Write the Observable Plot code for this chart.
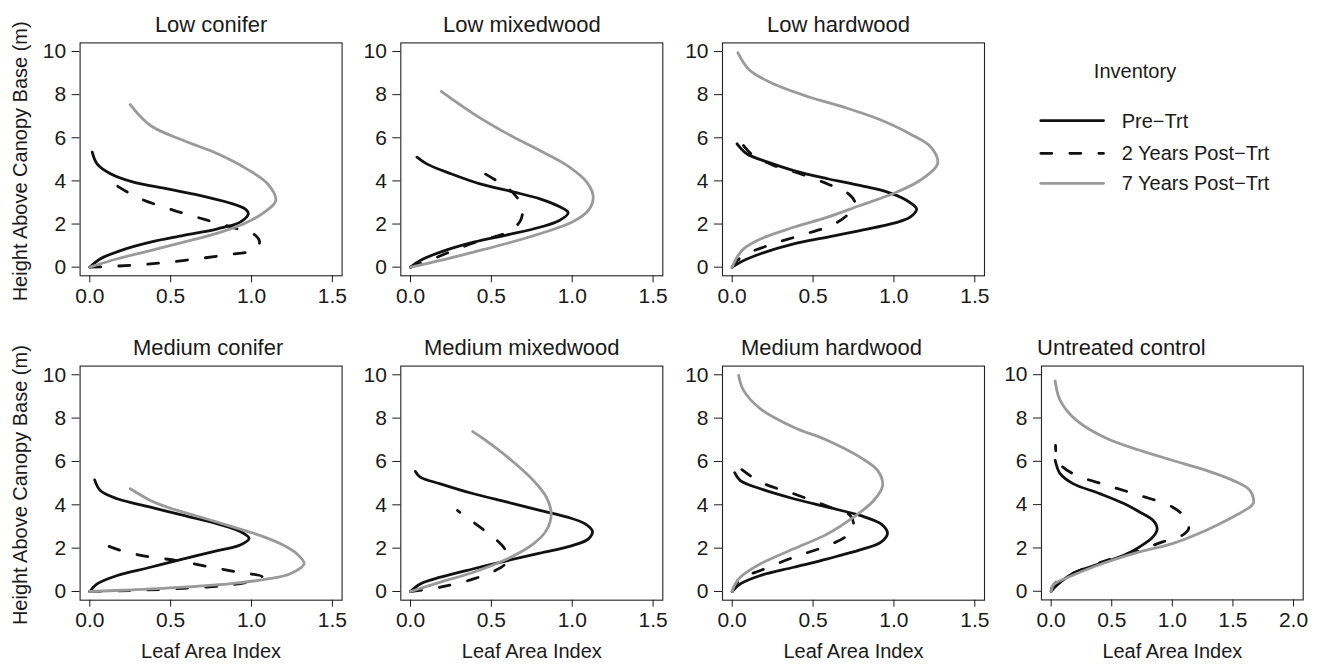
<!DOCTYPE html>
<html><head><meta charset="utf-8">
<script src="https://cdn.jsdelivr.net/npm/d3@7"></script>
<script src="https://cdn.jsdelivr.net/npm/@observablehq/plot@0.6"></script>
<style>
body{margin:0;background:#fff;}
#chart{position:relative;width:1318px;height:664px;overflow:hidden;font-family:"Liberation Sans",Arial,Helvetica,sans-serif;color:#1a1a1a;background:#fff;}
.panel{position:absolute;}
.panel svg{overflow:visible;background:transparent;}
</style></head><body><div id="chart"></div>
<script>
// ---- data: [Leaf Area Index, Height above canopy base (m)] ----
const lowConiferPre = [[0,0],[0.066,0.39],[0.19,0.77],[0.375,1.16],[0.58,1.47],[0.79,1.78],[0.93,2.09],[0.98,2.47],[0.96,2.70],[0.85,3.01],[0.685,3.32],[0.48,3.63],[0.27,3.94],[0.128,4.33],[0.045,4.79],[0.015,5.33]];
const lowConifer2y = [[0,0],[0.17,0.05],[0.375,0.15],[0.6,0.33],[0.85,0.58],[1.015,0.8],[1.05,1.15],[1.025,1.47],[0.91,1.78],[0.72,2.19],[0.51,2.66],[0.29,3.25],[0.1,4.1]];
const lowConifer7y = [[0,0],[0.17,0.39],[0.375,0.77],[0.58,1.16],[0.79,1.58],[0.95,2.0],[1.08,2.55],[1.15,3.09],[1.1,3.86],[0.97,4.56],[0.79,5.26],[0.58,5.87],[0.375,6.57],[0.25,7.54]];

const lowMixedPre = [[0,0],[0.06,0.31],[0.185,0.7],[0.39,1.16],[0.6,1.5],[0.8,1.85],[0.92,2.16],[0.975,2.52],[0.92,2.81],[0.8,3.17],[0.64,3.48],[0.43,3.86],[0.25,4.33],[0.1,4.79],[0.04,5.1]];
const lowMixed2y = [[0,0],[0.14,0.39],[0.29,0.85],[0.45,1.27],[0.6,1.62],[0.68,2.16],[0.69,2.78],[0.64,3.4],[0.53,4.02],[0.37,4.7]];
const lowMixed7y = [[0,0],[0.185,0.31],[0.39,0.7],[0.6,1.11],[0.8,1.55],[1.0,2.09],[1.1,2.63],[1.13,3.25],[1.09,3.94],[0.97,4.71],[0.8,5.41],[0.6,6.18],[0.39,7.11],[0.19,8.15]];

const lowHardPre = [[0,0],[0.05,0.23],[0.175,0.62],[0.38,1.08],[0.59,1.39],[0.79,1.7],[1.0,2.04],[1.1,2.32],[1.14,2.7],[1.08,3.09],[0.96,3.48],[0.79,3.79],[0.59,4.1],[0.38,4.48],[0.22,4.87],[0.09,5.26],[0.03,5.72]];
const lowHard2y = [[0,0],[0.03,0.3],[0.09,0.62],[0.24,1.05],[0.42,1.47],[0.61,1.93],[0.71,2.4],[0.76,2.94],[0.72,3.4],[0.59,3.86],[0.42,4.33],[0.26,4.71],[0.13,5.18],[0.07,5.64]];
const lowHard7y = [[0,0],[0.025,0.4],[0.07,0.85],[0.175,1.31],[0.38,1.85],[0.59,2.32],[0.79,2.86],[1.0,3.43],[1.16,4.02],[1.27,4.79],[1.23,5.56],[1.1,6.18],[0.9,6.88],[0.69,7.42],[0.48,7.88],[0.28,8.42],[0.11,9.12],[0.035,9.94]];

const medConiferPre = [[0,0],[0.045,0.35],[0.17,0.74],[0.375,1.12],[0.58,1.51],[0.79,1.89],[0.93,2.15],[0.985,2.46],[0.93,2.77],[0.79,3.12],[0.58,3.51],[0.375,3.89],[0.17,4.28],[0.065,4.66],[0.03,5.15]];
const medConifer2y = [[0,0],[0.27,0.05],[0.58,0.15],[0.89,0.32],[1.015,0.52],[1.065,0.69],[0.93,0.88],[0.77,1.09],[0.56,1.4],[0.29,1.71],[0.107,2.12],[0.045,2.42]];
const medConifer7y = [[0,0],[0.27,0.08],[0.58,0.2],[0.89,0.38],[1.1,0.58],[1.24,0.82],[1.325,1.28],[1.28,1.74],[1.18,2.2],[1.055,2.58],[0.89,2.97],[0.685,3.43],[0.48,3.89],[0.375,4.2],[0.25,4.74]];

const medMixedPre = [[0,0],[0.06,0.35],[0.185,0.66],[0.39,1.05],[0.6,1.43],[0.8,1.77],[1.0,2.12],[1.1,2.43],[1.125,2.78],[1.08,3.12],[0.97,3.43],[0.8,3.74],[0.6,4.12],[0.39,4.51],[0.185,4.97],[0.06,5.28],[0.03,5.54]];
const medMixed2y = [[0,0],[0.185,0.2],[0.39,0.58],[0.52,0.95],[0.59,1.3],[0.6,1.6],[0.58,2.0],[0.52,2.45],[0.43,2.97],[0.29,3.74]];
const medMixed7y = [[0,0],[0.185,0.43],[0.39,0.89],[0.6,1.51],[0.76,2.2],[0.84,2.82],[0.87,3.58],[0.84,4.35],[0.76,5.12],[0.6,6.2],[0.45,7.05],[0.385,7.38]];

const medHardPre = [[0,0],[0.05,0.35],[0.175,0.74],[0.38,1.12],[0.59,1.51],[0.79,1.92],[0.92,2.28],[0.96,2.69],[0.92,3.12],[0.79,3.51],[0.59,3.89],[0.38,4.28],[0.175,4.74],[0.05,5.12],[0.015,5.48]];
const medHard2y = [[0,0],[0.02,0.3],[0.07,0.66],[0.175,0.97],[0.38,1.58],[0.59,2.12],[0.71,2.58],[0.75,3.05],[0.73,3.51],[0.63,3.82],[0.38,4.51],[0.175,5.05],[0.06,5.62]];
const medHard7y = [[0,0],[0.015,0.3],[0.05,0.66],[0.175,1.28],[0.38,1.97],[0.59,2.66],[0.75,3.43],[0.875,4.2],[0.93,4.89],[0.9,5.58],[0.79,6.2],[0.59,6.97],[0.38,7.58],[0.175,8.43],[0.07,9.28],[0.04,9.97]];

const controlPre = [[0,0],[0.047,0.28],[0.18,0.82],[0.32,1.12],[0.6,1.66],[0.73,2.05],[0.84,2.51],[0.875,2.89],[0.84,3.28],[0.73,3.66],[0.6,4.05],[0.4,4.51],[0.18,4.97],[0.074,5.43],[0.033,6.05]];
const control2y = [[0,0],[0.02,0.3],[0.18,0.82],[0.46,1.43],[0.73,1.89],[0.92,2.28],[1.06,2.51],[1.135,2.89],[1.1,3.43],[1.0,3.89],[0.73,4.43],[0.46,4.89],[0.18,5.43],[0.06,5.97],[0.036,6.74]];
const control7y = [[0,0],[0.02,0.3],[0.18,0.74],[0.46,1.35],[0.73,1.82],[1.0,2.2],[1.28,2.82],[1.5,3.43],[1.64,3.89],[1.67,4.09],[1.64,4.66],[1.5,5.12],[1.28,5.58],[1.0,6.05],[0.73,6.51],[0.46,7.05],[0.21,7.89],[0.074,8.82],[0.033,9.71]];

const inventories = ["Pre\u2212Trt", "2 Years Post\u2212Trt", "7 Years Post\u2212Trt"];
const panelTitles = ["Low conifer","Low mixedwood","Low hardwood","Medium conifer","Medium mixedwood","Medium hardwood","Untreated control"];
const xTicks = [0, 0.5, 1.0, 1.5];
const xTicksControl = [0, 0.5, 1.0, 1.5, 2.0];
const yTicks = [0, 2, 4, 6, 8, 10];
const xLabel = "Leaf Area Index";
const yLabel = "Height Above Canopy Base (m)";
const legendTitle = "Inventory";

// ---- layout / style ----
const FONT = '"Liberation Sans", Arial, Helvetica, sans-serif';
const lineStyles = [
  {stroke: "#111", dash: null},
  {stroke: "#111", dash: "11,18"},
  {stroke: "#9a9a9a", dash: null}
];
const rows = [
  {top: 0, height: 310, mt: 42.4, mb: 34.7},
  {top: 310, height: 354, mt: 55.6, mb: 64.3}
];
const cols = [
  {left: 0, ml: 79.6},
  {left: 360, ml: 40.3},
  {left: 682, ml: 40},
  {left: 1001.3, ml: 40}
];
const BOXW = 262;
const panels = [
  {t: 0, series: [lowConiferPre, lowConifer2y, lowConifer7y], r: 0, c: 0, dx: 0},
  {t: 1, series: [lowMixedPre, lowMixed2y, lowMixed7y], r: 0, c: 1, dx: -10},
  {t: 2, series: [lowHardPre, lowHard2y, lowHard7y], r: 0, c: 2, dx: -15},
  {t: 3, series: [medConiferPre, medConifer2y, medConifer7y], r: 1, c: 0, dx: -3},
  {t: 4, series: [medMixedPre, medMixed2y, medMixed7y], r: 1, c: 1, dx: -10},
  {t: 5, series: [medHardPre, medHard2y, medHard7y], r: 1, c: 2, dx: -22},
  {t: 6, series: [controlPre, control2y, control7y], r: 1, c: 3, dx: -51, control: true}
];

const chart = document.getElementById("chart");
for (const p of panels) {
  const row = rows[p.r], col = cols[p.c];
  const ticks = p.control ? xTicksControl : xTicks;
  const xmax = ticks[ticks.length - 1];
  const pad = xmax * 0.04;
  const marks = [];
  p.series.forEach((s, i) => {
    marks.push(Plot.line(s, {
      x: d => d[0], y: d => d[1],
      stroke: lineStyles[i].stroke, strokeWidth: 2.8,
      strokeDasharray: lineStyles[i].dash || undefined,
      strokeLinecap: "round", strokeLinejoin: "round",
      curve: "catmull-rom"
    }));
  });
  marks.push(Plot.frame({stroke: "#222", strokeWidth: 1.1}));
  marks.push(Plot.axisX(ticks, {tickSize: 7, tickPadding: 5, tickFormat: d => d.toFixed(1), fontSize: 21, label: null}));
  marks.push(Plot.axisY(yTicks, {tickSize: 8, tickPadding: 6, fontSize: 21, label: null}));
  marks.push(Plot.text([panelTitles[p.t]], {text: d => d, frameAnchor: "top", dx: p.dx, dy: -11, lineAnchor: "bottom", fontSize: 22}));
  if (p.r === 1) marks.push(Plot.text([xLabel], {text: d => d, frameAnchor: "bottom", dy: 58, lineAnchor: "bottom", fontSize: 20}));
  if (p.c === 0) marks.push(Plot.text([yLabel], {text: d => d, frameAnchor: "left", textAnchor: "middle", lineAnchor: "middle", rotate: -90, dx: -60, dy: 2, fontSize: 20}));
  const svg = Plot.plot({
    width: col.ml + BOXW + 15,
    height: row.height,
    marginLeft: col.ml, marginRight: 15, marginTop: row.mt, marginBottom: row.mb,
    x: {domain: [-pad, xmax + pad], label: null},
    y: {domain: [-0.4, 10.4], label: null},
    style: {fontFamily: FONT, fontSize: "21px", color: "#1a1a1a", background: "transparent", overflow: "visible"},
    marks
  });
  const div = document.createElement("div");
  div.className = "panel";
  div.style.left = col.left + "px";
  div.style.top = row.top + "px";
  div.appendChild(svg);
  chart.appendChild(div);
}

// ---- legend ----
const leg = d3.select(chart).append("svg")
  .attr("width", 298).attr("height", 170)
  .style("position", "absolute").style("left", "1020px").style("top", "50px")
  .style("font-family", FONT);
leg.append("text").attr("x", 115).attr("y", 28).attr("text-anchor", "middle")
  .attr("font-size", 20).attr("fill", "#1a1a1a").text(legendTitle);
const legY = [70.7, 103.3, 133.3];
inventories.forEach((name, i) => {
  leg.append("line").attr("x1", 20.8).attr("x2", 83.5).attr("y1", legY[i]).attr("y2", legY[i])
    .attr("stroke", lineStyles[i].stroke).attr("stroke-width", 2.8)
    .attr("stroke-linecap", "round")
    .attr("stroke-dasharray", lineStyles[i].dash);
  leg.append("text").attr("x", 101.7).attr("y", legY[i]).attr("dy", "0.35em")
    .attr("font-size", 20).attr("fill", "#1a1a1a").text(name);
});
</script></body></html>
